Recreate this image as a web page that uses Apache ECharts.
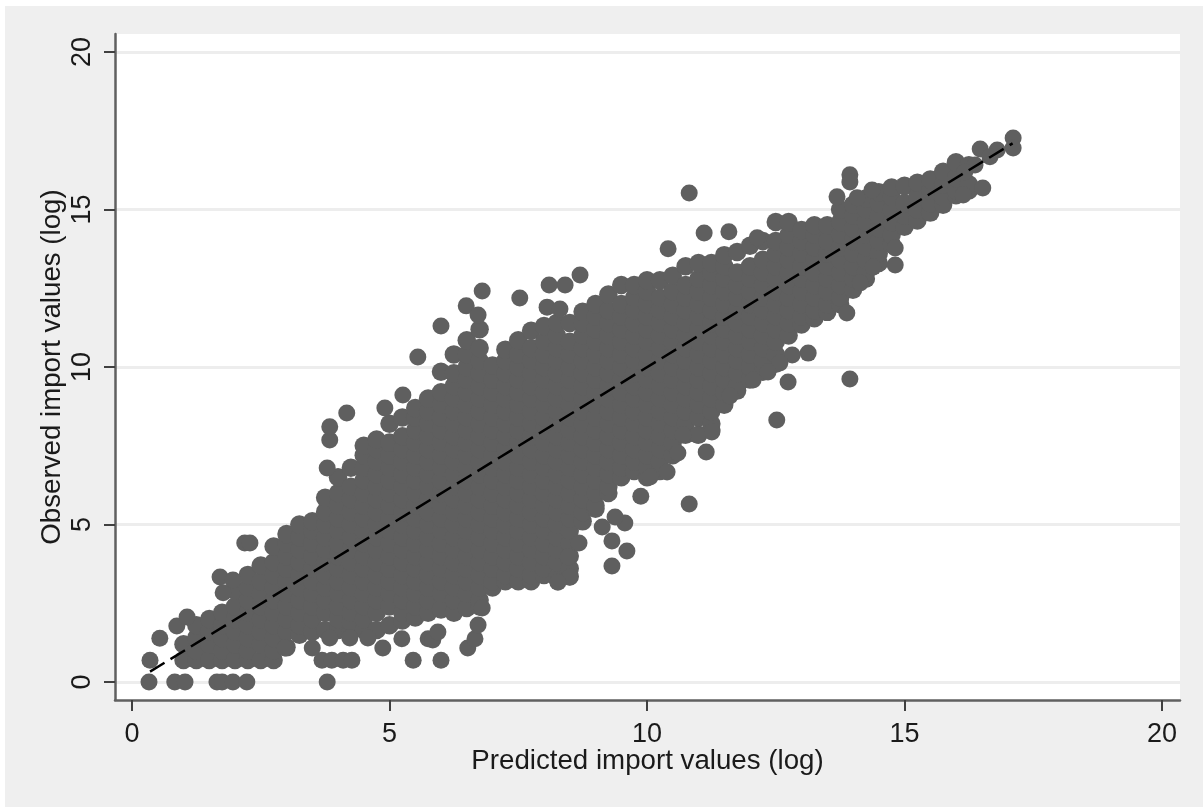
<!DOCTYPE html>
<html><head><meta charset="utf-8">
<style>html,body{margin:0;padding:0;background:#fff;width:1203px;height:807px;overflow:hidden}
#c{position:absolute;left:5px;top:6px;width:1198px;height:801px;background:#efefef}</style>
<script src="https://cdn.jsdelivr.net/npm/echarts@6/dist/echarts.min.js"></script>
</head><body><div id="c"></div>
<script>
const xTitle = 'Predicted import values (log)';
const yTitle = 'Observed import values (log)';
const tickValues = [0, 5, 10, 15, 20];
const fitX = [0.35, 17.1];
const fitY = [0.33, 17.1];
const coreX = [1,1.25,1.5,1.75,2,2.25,2.5,2.75,3,3.25,3.5,3.75,4,4.25,4.5,4.75,5,5.25,5.5,5.75,6,6.25,6.5,6.75,7,7.25,7.5,7.75,8,8.25,8.5,8.75,9,9.25,9.5,9.75,10,10.25,10.5,10.75,11,11.25,11.5,11.75,12,12.25,12.5,12.75,13,13.25,13.5,13.75,14,14.25,14.5,14.75,15,15.25,15.5,15.75,16,16.25];
const coreY = [
[.7,1.2],
[.7,1,1.4,1.8],
[.7,1.2,1.6,2],
[.7,1,1.4,1.8,2.2],
[.7,1.2,1.6,2,2.4,2.9],
[.7,1,1.4,1.8,2.2,2.6,3,3.4],
[.7,1.2,1.6,2,2.4,2.8,3.2,3.7],
[.7,1,1.4,1.8,2.2,2.6,3,3.4,3.8,4.3],
[1.1,1.6,2,2.4,2.8,3.2,3.6,4,4.4,4.7],
[1.5,1.8,2.2,2.6,3,3.4,3.8,4.2,4.6,5],
[1.6,2,2.4,2.8,3.2,3.6,4,4.4,4.8,5.1],
[1.65,2.2,2.6,3,3.4,3.8,4.2,4.6,5,5.4,5.85],
[1.65,2,2.4,2.8,3.2,3.6,4,4.4,4.8,5.2,5.6,6,6.5],
[1.6,1.9,2.2,2.6,3,3.4,3.8,4.2,4.6,5,5.4,5.8,6.2,6.8],
[1.65,2,2.4,2.8,3.2,3.6,4,4.4,4.8,5.2,5.6,6,6.4,6.8,7.2,7.5],
[1.65,2.2,2.6,3,3.4,3.8,4.2,4.6,5,5.4,5.8,6.2,6.6,7,7.4,7.7],
[1.8,2.4,2.8,3.2,3.6,4,4.4,4.8,5.2,5.6,6,6.4,6.8,7.2,7.6,8.2],
[1.95,2.2,2.6,3,3.4,3.8,4.2,4.6,5,5.4,5.8,6.2,6.6,7,7.4,7.8,8.4],
[2.05,2.4,2.8,3.2,3.6,4,4.4,4.8,5.2,5.6,6,6.4,6.8,7.2,7.6,8,8.4,8.7],
[2.2,2.6,3,3.4,3.8,4.2,4.6,5,5.4,5.8,6.2,6.6,7,7.4,7.8,8.2,8.6,9],
[2.3,2.8,3.2,3.6,4,4.4,4.8,5.2,5.6,6,6.4,6.8,7.2,7.6,8,8.4,8.8,9.2,9.85],
[2.2,2.6,3,3.4,3.8,4.2,4.6,5,5.4,5.8,6.2,6.6,7,7.4,7.8,8.2,8.6,9,9.4,9.8,10.4],
[2.35,2.8,3.2,3.6,4,4.4,4.8,5.2,5.6,6,6.4,6.8,7.2,7.6,8,8.4,8.8,9.2,9.6,10,10.4,10.85],
[2.4,2.6,3,3.4,3.8,4.2,4.6,5,5.4,5.8,6.2,6.6,7,7.4,7.8,8.2,8.6,9,9.4,9.8,10.2,10.6,11.2],
[3,3.2,3.6,4,4.4,4.8,5.2,5.6,6,6.4,6.8,7.2,7.6,8,8.4,8.8,9.2,9.6,10.05],
[3.2,3.4,3.8,4.2,4.6,5,5.4,5.8,6.2,6.6,7,7.4,7.8,8.2,8.6,9,9.4,9.8,10.2,10.55],
[3.2,3.6,4,4.4,4.8,5.2,5.6,6,6.4,6.8,7.2,7.6,8,8.4,8.8,9.2,9.6,10,10.4,10.85],
[3.2,3.4,3.8,4.2,4.6,5,5.4,5.8,6.2,6.6,7,7.4,7.8,8.2,8.6,9,9.4,9.8,10.2,10.6,11.15],
[3.4,3.6,4,4.4,4.8,5.2,5.6,6,6.4,6.8,7.2,7.6,8,8.4,8.8,9.2,9.6,10,10.4,10.8,11.3],
[3.3,3.8,4.2,4.6,5,5.4,5.8,6.2,6.6,7,7.4,7.8,8.2,8.6,9,9.4,9.8,10.2,10.6,11,11.4],
[3.35,3.6,4,4.4,4.8,5.2,5.6,6,6.4,6.8,7.2,7.6,8,8.4,8.8,9.2,9.6,10,10.4,10.8,11.4],
[5.1,5.4,5.8,6.2,6.6,7,7.4,7.8,8.2,8.6,9,9.4,9.8,10.2,10.6,11,11.4,11.75],
[5.5,5.6,6,6.4,6.8,7.2,7.6,8,8.4,8.8,9.2,9.6,10,10.4,10.8,11.2,11.6,12],
[6,6.2,6.6,7,7.4,7.8,8.2,8.6,9,9.4,9.8,10.2,10.6,11,11.4,11.8,12.3],
[6.5,6.8,7.2,7.6,8,8.4,8.8,9.2,9.6,10,10.4,10.8,11.2,11.6,12,12.6],
[6.7,7,7.4,7.8,8.2,8.6,9,9.4,9.8,10.2,10.6,11,11.4,11.8,12.2,12.6],
[6.5,6.8,7.2,7.6,8,8.4,8.8,9.2,9.6,10,10.4,10.8,11.2,11.6,12,12.4,12.75],
[6.7,7,7.4,7.8,8.2,8.6,9,9.4,9.8,10.2,10.6,11,11.4,11.8,12.2,12.75],
[7.2,7.6,8,8.4,8.8,9.2,9.6,10,10.4,10.8,11.2,11.6,12,12.4,12.9],
[7.85,8.2,8.6,9,9.4,9.8,10.2,10.6,11,11.4,11.8,12.2,12.6,13.2],
[7.85,8.4,8.8,9.2,9.6,10,10.4,10.8,11.2,11.6,12,12.4,12.8,13.3],
[8,8.2,8.6,9,9.4,9.8,10.2,10.6,11,11.4,11.8,12.2,12.6,13,13.3],
[8.8,9.2,9.6,10,10.4,10.8,11.2,11.6,12,12.4,12.8,13.2,13.55],
[9.25,9.4,9.8,10.2,10.6,11,11.4,11.8,12.2,12.6,13,13.65],
[9.6,10,10.4,10.8,11.2,11.6,12,12.4,12.8,13.2,13.85],
[9.85,10.2,10.6,11,11.4,11.8,12.2,12.6,13,13.4,14],
[10.1,10.4,10.8,11.2,11.6,12,12.4,12.8,13.2,13.6,14,14.6],
[11,11.4,11.8,12.2,12.6,13,13.4,13.8,14.2,14.6],
[11.35,11.6,12,12.4,12.8,13.2,13.6,14,14.35],
[11.55,11.8,12.2,12.6,13,13.4,13.8,14.2,14.5],
[11.75,12,12.4,12.8,13.2,13.6,14,14.5],
[12,12.2,12.6,13,13.4,13.8,14.2,14.6,15],
[12.45,12.8,13.2,13.6,14,14.4,14.8,15.15],
[12.8,13,13.4,13.8,14.2,14.6,15,15.35],
[13.3,13.6,14,14.4,14.8,15.2,15.55],
[13.9,14.2,14.6,15,15.4,15.7],
[14.45,14.8,15.2,15.75],
[14.65,15,15.4,15.85],
[14.9,15.2,15.6,15.95],
[15.15,15.4,15.8,16.2],
[15.45,15.6,16,16.5],
[15.6,15.8,16.4]
];
const edgeX = [.33,.83,1.03,1.65,1.75,1.96,2.23,3.79,.35,.54,.87,1.07,3.69,3.88,4.1,4.27,5.46,6,3.5,2.97,4.87,5.24,5.75,3.84,4.23,4.58,5.84,5.94,6.52,6.66,6.72,3.79,3.84,3.84,4.17,4.91,5.26,5.55,6,6.49,6.8,6.72,7.53,8.1,8.41,8.7,8.06,8.31,10.82,10.41,11.11,11.59,12.14,13.94,13.94,13.69,14.08,14.37,16.47,16.8,16.66,17.11,17.11,16.52,16.14,16.37,16.17,14.82,14.82,14.39,14.14,13.88,13.94,12.74,12.52,13.13,12.82,12.58,12.35,12.06,11.61,11.15,11.26,10.97,10.7,10.6,10.39,10.06,9.88,10.82,9.57,9.38,9.13,9.32,9.61,9.32,8.68,8.47,8.5,8.27,6.8,1.71,1.77,1.96,2.19,2.29];
const edgeY = [0,0,0,0,0,0,0,0,.69,1.39,1.78,2.06,.69,.69,.69,.69,.69,.69,1.08,1.08,1.08,1.37,1.37,1.4,1.4,1.4,1.33,1.59,1.08,1.37,1.81,6.79,7.68,8.1,8.54,8.7,9.11,10.32,11.3,11.94,12.41,11.65,12.19,12.6,12.6,12.92,11.9,11.84,15.52,13.75,14.25,14.29,14.1,16.1,15.87,15.4,15.37,15.62,16.92,16.89,16.67,17.27,16.95,15.68,15.46,16.41,16.19,13.24,13.78,13.17,12.67,11.71,9.62,9.52,8.32,10.44,10.38,10.13,9.84,9.59,9.08,7.3,7.94,7.84,7.84,7.27,6.67,6.51,5.9,5.65,5.05,5.24,4.92,4.48,4.16,3.68,4.41,3.97,3.33,3.17,2.35,3.33,2.83,3.24,4.41,4.41];

const corePoints = [];
coreX.forEach((x, i) => coreY[i].forEach(y => corePoints.push([x, y])));
const edgePoints = edgeX.map((x, i) => [x, edgeY[i]]);
const font = '"Liberation Sans", Arial, sans-serif';
const chart = echarts.init(document.getElementById('c'));
function axis(nameGap, labelMargin, rotate, min, max) {
  return {
    type: 'value', min, max, name: null, nameLocation: 'middle', nameGap, nameMoveOverlap: false,
    nameTextStyle: {color: '#1a1a1a', fontSize: 27.7, fontFamily: font},
    axisLine: {show: true, onZero: false, lineStyle: {color: '#606060', width: 2.5}},
    axisTick: {show: true, length: 11, customValues: tickValues, lineStyle: {color: '#404040', width: 2}},
    axisLabel: {show: true, margin: labelMargin, rotate, customValues: tickValues, color: '#1a1a1a', fontSize: 27, fontFamily: font, showMinLabel: true, showMaxLabel: true},
    splitLine: {show: true, lineStyle: {color: '#ededed', width: 3}}
  };
}
const xa = axis(47, 21, 0, -0.33, 20.35); xa.name = xTitle; xa.splitLine = {show: false};
const ya = axis(49, 19, 90, -0.571, 20.57); ya.name = yTitle;
chart.setOption({
  animation: false,
  backgroundColor: 'transparent',
  grid: {show: true, left: 110, top: 28, width: 1065, height: 666, backgroundColor: '#fff', borderWidth: 0, containLabel: false},
  xAxis: xa, yAxis: ya,
  series: [
    {type: 'scatter', data: corePoints, symbol: 'circle', symbolSize: 18.5, itemStyle: {color: '#5f5f5f', opacity: 1}, progressive: 0},
    {type: 'scatter', data: edgePoints, symbol: 'circle', symbolSize: 17, itemStyle: {color: '#5f5f5f', opacity: 1}, progressive: 0},
    {type: 'line', data: fitX.map((x, i) => [x, fitY[i]]), symbol: 'none', z: 5, lineStyle: {color: '#000', width: 2.5, type: [17, 7]}}
  ]
});
</script></body></html>
